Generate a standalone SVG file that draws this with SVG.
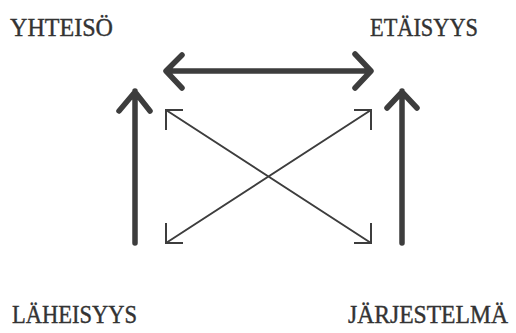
<svg xmlns="http://www.w3.org/2000/svg" width="516" height="333" viewBox="0 0 516 333">
<style>
.lbl{font-family:"Liberation Serif","DejaVu Serif",serif;font-size:25px;fill:#333;stroke:#333;stroke-width:0.4}
.thick{stroke:#3d3d3d;stroke-width:5.5;fill:none;stroke-linecap:round;stroke-linejoin:round}
.thin{stroke:#3d3d3d;stroke-width:2;fill:none}
</style>
<rect width="516" height="333" fill="#fff"/>
<g id="yhteiso"><text class="lbl" x="10" y="36" textLength="103" lengthAdjust="spacingAndGlyphs">YHTEISÖ</text></g>
<g id="etaisyys"><text class="lbl" x="370" y="36" textLength="108" lengthAdjust="spacingAndGlyphs">ETÄISYYS</text></g>
<g id="laheisyys"><text class="lbl" x="12" y="323" textLength="125" lengthAdjust="spacingAndGlyphs">LÄHEISYYS</text></g>
<g id="jarjestelma"><text class="lbl" x="348" y="323" textLength="160" lengthAdjust="spacingAndGlyphs">JÄRJESTELMÄ</text></g>
<g id="connectors">
<path class="thick" d="M167 71H370M182 55L166 71L182 88M355 54L371 71L355 88"/>
<path class="thick" d="M135 243V91M119 111L135 92L150 111"/>
<path class="thick" d="M402 243V91M387 108L402 92L417 108"/>
<path class="thin" d="M166 110L371 243M166 243L371 110"/>
<path class="thin" d="M183 110H166V130M354 110H371V130M166 223V243H183M371 223V243H354"/>
</g>
</svg>
